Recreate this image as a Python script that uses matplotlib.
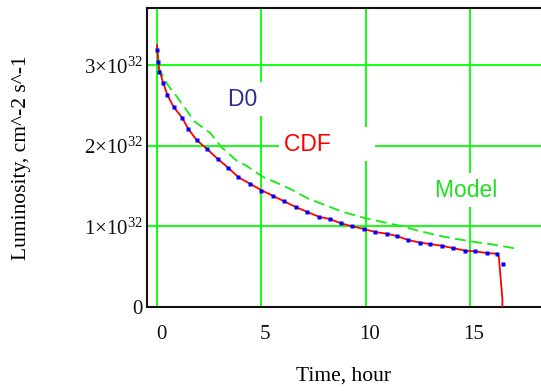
import numpy as np
import matplotlib
matplotlib.use('Agg')
import matplotlib.pyplot as plt
import matplotlib.transforms as mtransforms

plt.rcParams['mathtext.fontset'] = 'custom'
plt.rcParams['mathtext.rm'] = 'Liberation Serif'
plt.rcParams['mathtext.it'] = 'Liberation Serif:italic'

SCALE = 1e32

# D0 measured points (hour, 1e32 cm^-2 s^-1)
d0_t = [0.0, 0.05, 0.1, 0.3, 0.5, 0.8, 1.2, 1.5, 1.9, 2.4, 2.9, 3.4, 3.9, 4.45,
        5.0, 5.55, 6.1, 6.65, 7.2, 7.75, 8.3, 8.8, 9.35, 9.9, 10.45, 11.0,
        11.5, 12.05, 12.6, 13.1, 13.65, 14.2, 14.75, 15.25, 15.8, 16.3, 16.6]
d0_L = [3.19, 3.04, 2.92, 2.78, 2.63, 2.48, 2.35, 2.21, 2.07, 1.96, 1.84, 1.73,
        1.61, 1.53, 1.44, 1.38, 1.31, 1.24, 1.18, 1.12, 1.09, 1.04, 1.0, 0.97,
        0.93, 0.91, 0.88, 0.83, 0.80, 0.78, 0.76, 0.73, 0.70, 0.69, 0.67, 0.66,
        0.53]

# CDF curve
cdf_t = [0.0, 0.1, 0.3, 0.5, 0.8, 1.2, 1.5, 1.9, 2.4, 2.9, 3.4, 3.9, 4.45, 5.0,
         5.55, 6.1, 6.65, 7.2, 7.75, 8.3, 8.8, 9.35, 9.9, 10.45, 11.0, 11.5,
         12.05, 12.6, 13.1, 13.65, 14.2, 14.75, 15.25, 15.8, 16.3, 16.38,
         16.42, 16.55, 16.55]
cdf_L = [3.25, 2.95, 2.78, 2.63, 2.48, 2.35, 2.21, 2.07, 1.96, 1.84, 1.73, 1.61,
         1.53, 1.45, 1.38, 1.31, 1.24, 1.18, 1.12, 1.09, 1.04, 1.0, 0.97, 0.93,
         0.91, 0.88, 0.83, 0.80, 0.78, 0.76, 0.73, 0.70, 0.69, 0.67, 0.66, 0.62,
         0.5, 0.1, 0.0]

# Model curve
model_t = [0.05, 0.5, 0.95, 1.5, 1.8, 2.55, 3.1, 3.8, 4.3, 5.1, 5.75, 6.5, 7.2,
           8.2, 8.9, 10.0, 10.7, 11.8, 12.45, 13.6, 14.2, 15.4, 16.0, 17.3]
model_L = [2.98, 2.76, 2.61, 2.41, 2.30, 2.16, 1.98, 1.82, 1.75, 1.61, 1.54, 1.45,
           1.35, 1.25, 1.18, 1.10, 1.06, 1.00, 0.95, 0.88, 0.85, 0.80, 0.78, 0.72]

xticks = [0, 5, 10, 15]
yticks = [0, 1, 2, 3]
ytick_labels = ['0', r'$1{\times}10^{32}$', r'$2{\times}10^{32}$', r'$3{\times}10^{32}$']

fig = plt.figure(figsize=(5.41, 3.91), dpi=100)
ax = fig.add_axes([147 / 541, 1 - 307 / 391, 1 - 147 / 541, (307 - 8) / 391])

ax.plot(model_t, np.array(model_L) * SCALE, color='#11EE11', lw=1.3,
        dashes=(6, 3), zorder=3)
ax.plot(cdf_t, np.array(cdf_L) * SCALE, color='#FF0000', lw=1.3, zorder=4)
ax.plot(d0_t, np.array(d0_L) * SCALE, ls='none', marker='s', ms=2.6,
        color='#0000FF', mec='none', zorder=5)

ax.set_xlim(-0.48, 18.4)
ax.set_ylim(0, 3.71 * SCALE)
ax.set_xticks(xticks)
ax.set_yticks([v * SCALE for v in yticks])
ax.set_yticklabels(ytick_labels)
ax.grid(True, color='#00FF00', lw=1.3, zorder=1)
ax.set_axisbelow(True)
ax.tick_params(length=0, labelsize=15, colors='#111111')
ax.tick_params(axis='x', pad=13)
ax.tick_params(axis='y', pad=3)
shift = mtransforms.ScaledTranslation(4 / 100, 0, fig.dpi_scale_trans)
for lab in ax.get_xticklabels() + ax.get_yticklabels():
    lab.set_fontfamily('Liberation Serif')
for lab in ax.get_xticklabels():
    lab.set_transform(lab.get_transform() + shift)
ax.spines['right'].set_visible(False)
for s in ['left', 'bottom', 'top']:
    ax.spines[s].set_linewidth(1.5)
    ax.spines[s].set_color('#111111')

fig.text(22 / 541, 1 - 158 / 391, 'Luminosity, cm^-2 s^-1', rotation=90,
         ha='center', va='center', fontsize=15.5, family='Liberation Serif')
fig.text(343 / 541, 1 - 376 / 391, 'Time, hour', ha='center', va='center',
         fontsize=15.5, family='Liberation Serif')

box = dict(facecolor='white', edgecolor='none', boxstyle='square,pad=0.25')
ax.text(3.4, 2.58 * SCALE, 'D0  ', color='#2E2E8E', fontsize=16.5,
        family='Liberation Sans', va='center', ha='left', bbox=box, zorder=2)
ax.text(6.1, 2.02 * SCALE, 'CDF      ', color='#FF0000', fontsize=16.5,
        family='Liberation Sans', va='center', ha='left', bbox=box, zorder=2)
ax.text(13.3, 1.45 * SCALE, 'Model  ', color='#22DD22', fontsize=16.5,
        family='Liberation Sans', va='center', ha='left', bbox=box, zorder=2)

fig.savefig('out.png', dpi=100)
